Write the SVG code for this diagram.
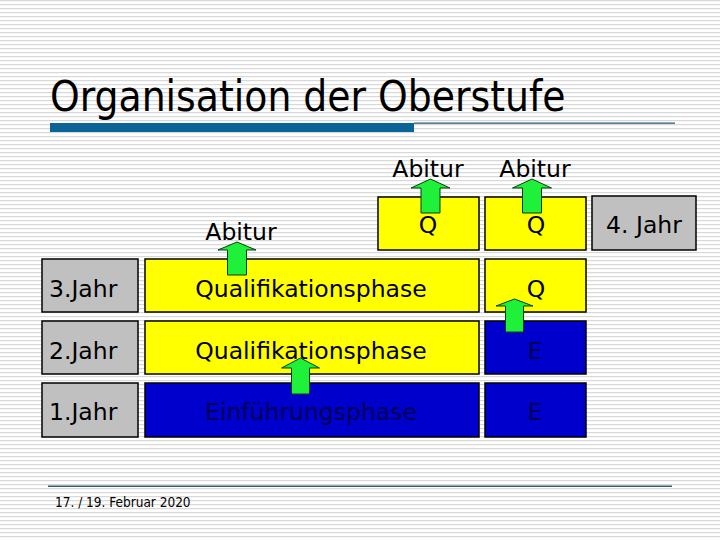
<svg xmlns="http://www.w3.org/2000/svg" width="720" height="540" viewBox="0 0 720 540">
<defs>
<pattern id="stripes" width="8" height="4" patternUnits="userSpaceOnUse">
<rect width="8" height="4" fill="#ffffff"/>
<rect y="0" width="8" height="1.2" fill="#d8d8d8"/>
</pattern>
<style>
.t{font-family:"DejaVu Sans","Liberation Sans",sans-serif;font-size:23.5px;fill:#000;}
.c{text-anchor:middle;}
.box{stroke:#000;stroke-width:1.5;}
.y{fill:#ffff00;}
.b{fill:#0000cc;}
.g{fill:#c0c0c0;}
.dk{fill:#000055;}
.arr{fill:#1ff03a;stroke:#0b3d0b;stroke-width:1;}
</style>
</defs>
<rect width="720" height="540" fill="url(#stripes)"/>
<g id="title">
<text x="50" y="111" style="font-family:'DejaVu Sans Condensed','DejaVu Sans',sans-serif;font-size:42px" fill="#000">Organisation der Oberstufe</text>
<rect x="50" y="123" width="364" height="9" fill="#0a6497"/>
<rect x="414" y="122.5" width="261" height="1.3" fill="#2b6075"/>
</g>
<g id="footer">
<rect x="48" y="485.5" width="624" height="1.5" fill="#2f5f6a"/>
<text x="55" y="507" style="font-family:'DejaVu Sans Condensed','DejaVu Sans',sans-serif;font-size:13.5px" fill="#000">17. / 19. Februar 2020</text>
</g>
<g id="abitur-labels">
<text class="t c" x="428" y="177">Abitur</text>
<text class="t c" x="535" y="177">Abitur</text>
<text class="t c" x="241" y="240">Abitur</text>
</g>
<g id="q-top-1"><rect class="box y" x="378" y="197" width="101" height="53"/><text class="t c" x="428" y="233">Q</text></g>
<g id="q-top-2"><rect class="box y" x="485" y="197" width="101" height="53"/><text class="t c" x="536" y="233">Q</text></g>
<g id="jahr4"><rect class="box g" x="592" y="196" width="104" height="54"/><text class="t c" x="644" y="233">4. Jahr</text></g>
<g id="jahr3"><rect class="box g" x="42" y="259" width="96" height="53"/><text class="t" x="49" y="297">3.Jahr</text></g>
<g id="jahr2"><rect class="box g" x="42" y="321" width="96" height="53"/><text class="t" x="49" y="359">2.Jahr</text></g>
<g id="jahr1"><rect class="box g" x="42" y="383" width="96" height="54"/><text class="t" x="49" y="420">1.Jahr</text></g>
<g id="quali3"><rect class="box y" x="145" y="259" width="334" height="53"/><text class="t c" x="311" y="297">Qualifikationsphase</text></g>
<g id="quali2"><rect class="box y" x="145" y="321" width="334" height="53"/><text class="t c" x="311" y="359">Qualifikationsphase</text></g>
<g id="einf1"><rect class="box b" x="145" y="383" width="334" height="54"/><text class="t c dk" x="311" y="420">Einführungsphase</text></g>
<g id="q-right-3"><rect class="box y" x="485" y="259" width="101" height="53"/><text class="t c" x="536" y="297">Q</text></g>
<g id="e-right-2"><rect class="box b" x="485" y="321" width="101" height="53"/><text class="t c dk" x="535" y="359">E</text></g>
<g id="e-right-1"><rect class="box b" x="485" y="383" width="101" height="54"/><text class="t c dk" x="535" y="420">E</text></g>
<g id="connectors">
<polygon class="arr" points="430.5,179 450,188 440,188 440,213 421,213 421,188 411,188"/>
<polygon class="arr" points="532,179 551.5,188 541.5,188 541.5,213 522.5,213 522.5,188 512.5,188"/>
<polygon class="arr" points="237,242 256,250 246.5,250 246.5,275 227.5,275 227.5,250 218,250"/>
<polygon class="arr" points="514.5,299 533,306 523.5,306 523.5,332 505.5,332 505.5,306 496,306"/>
<polygon class="arr" points="300.5,358 319.5,368 309.5,368 309.5,394 291.5,394 291.5,368 281.5,368"/>
</g>
</svg>
